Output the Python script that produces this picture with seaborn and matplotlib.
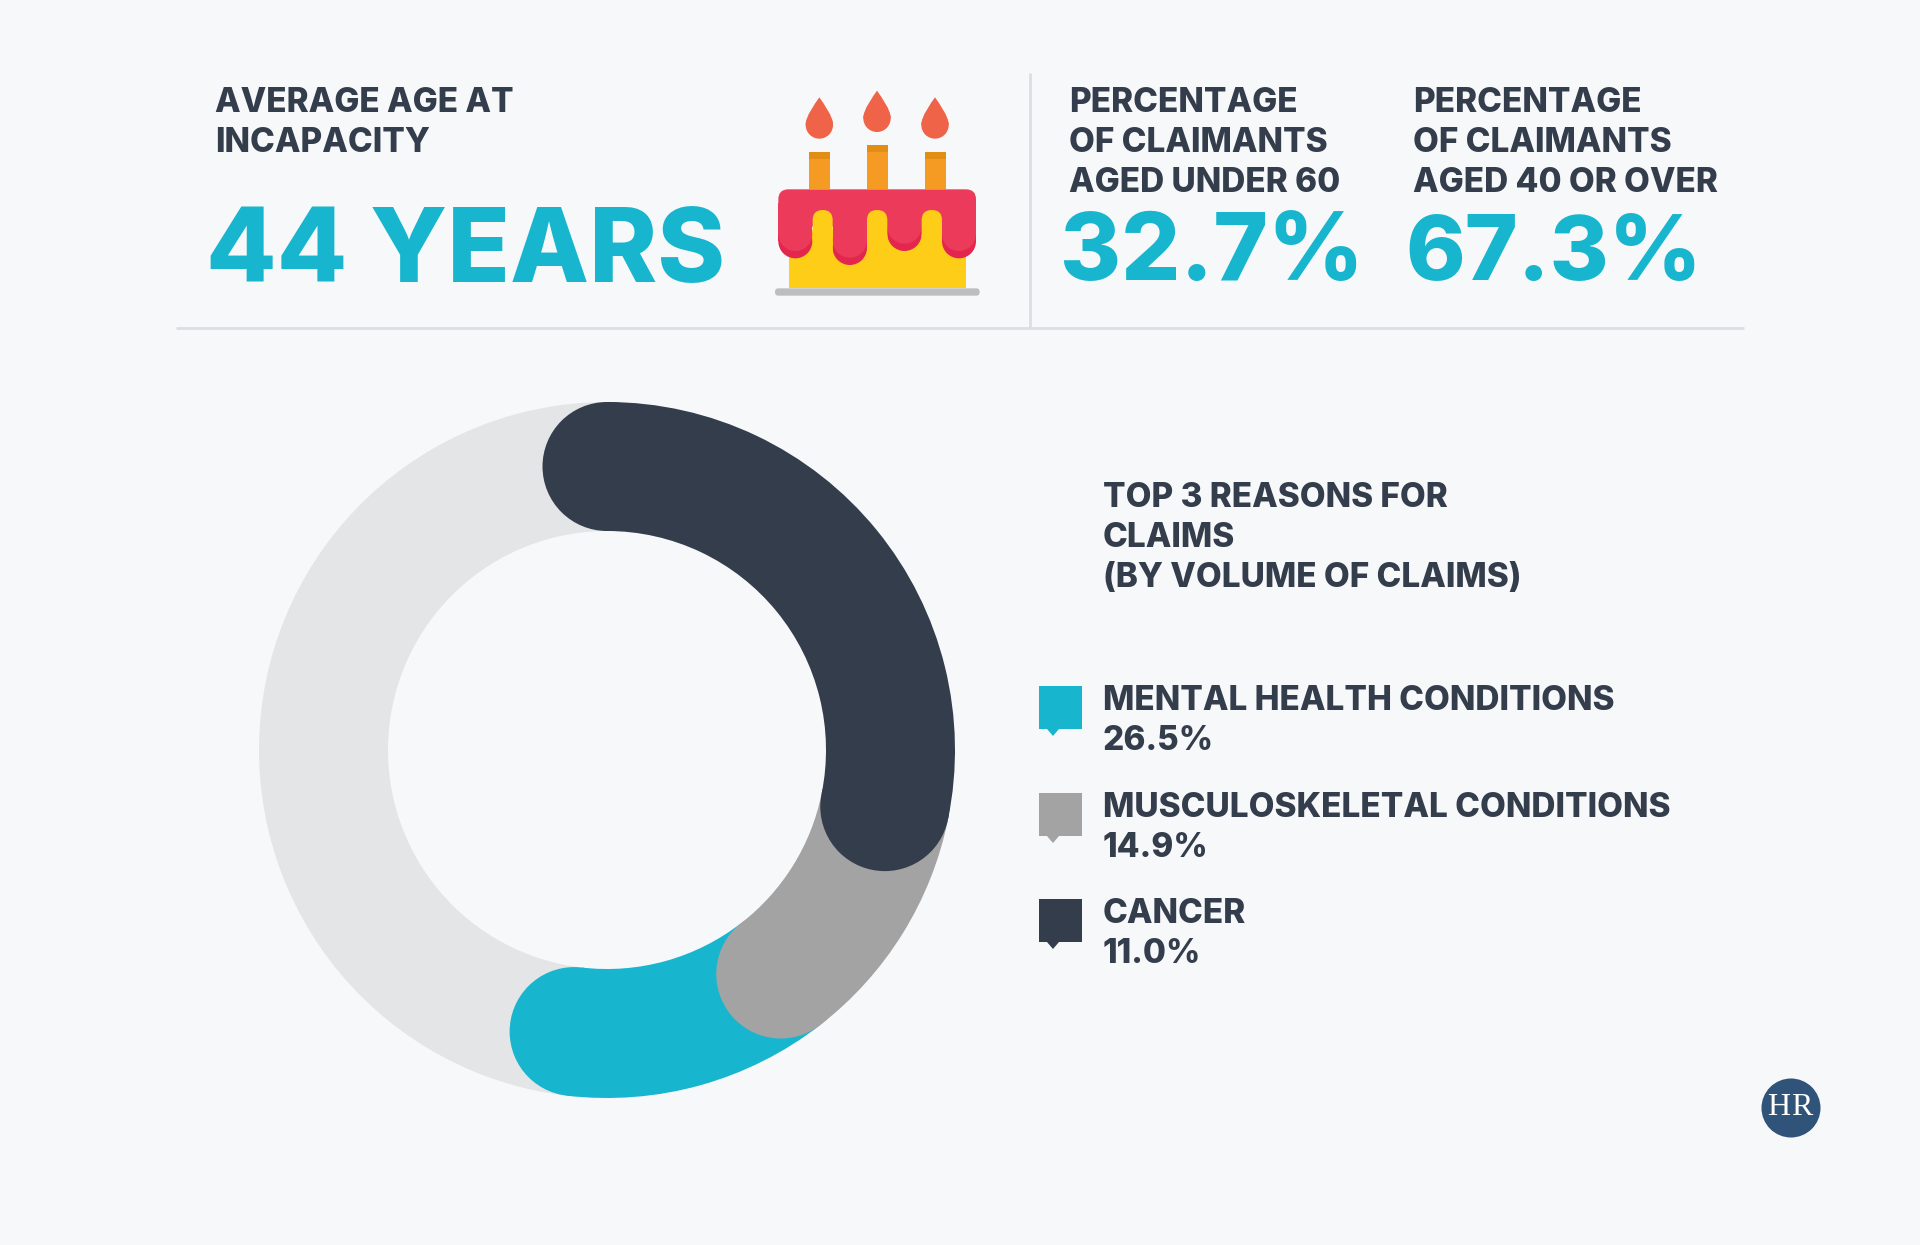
import numpy as np
import pandas as pd
import matplotlib
matplotlib.use("Agg")
import matplotlib.pyplot as plt
import seaborn as sns
from matplotlib.patches import Circle, FancyBboxPatch, PathPatch, Rectangle, Polygon
from matplotlib.path import Path

# values
reasons = ["MENTAL HEALTH CONDITIONS", "MUSCULOSKELETAL CONDITIONS", "CANCER"]
reason_labels = ["26.5%", "14.9%", "11.0%"]
reason_colors = ["#17b6ce", "#a3a3a3", "#343d4b"]
track_color = "#e4e5e6"

# where each coloured arc ends on the ring (percent of a turn, clockwise from the top)
arc_names = ["CANCER", "MUSCULOSKELETAL CONDITIONS", "MENTAL HEALTH CONDITIONS"]
arc_ends = [28.2, 39.5, 51.85]

age_title = ["AVERAGE AGE AT", "INCAPACITY"]
age_value = "44 YEARS"
under_title = ["PERCENTAGE", "OF CLAIMANTS", "AGED UNDER 60"]
under_value = "32.7%"
over_title = ["PERCENTAGE", "OF CLAIMANTS", "AGED 40 OR OVER"]
over_value = "67.3%"
top_title = ["TOP 3 REASONS FOR", "CLAIMS", "(BY VOLUME OF CLAIMS)"]

BG = "#f7f8fa"
INK = "#343d4b"
TEAL = "#17b6ce"
RULE = "#dcdee1"
W, H = 1920, 1245

sns.set_theme(style="white")
plt.rcParams["font.family"] = ["Inter", "DejaVu Sans"]

fig = plt.figure(figsize=(W / 100, H / 100), dpi=100, facecolor=BG)

# overlay in pixel coordinates for text and the small drawings
page = fig.add_axes([0, 0, 1, 1], zorder=2)
page.set_xlim(0, W)
page.set_ylim(H, 0)
page.axis("off")
page.patch.set_alpha(0)


def label(x, y, s, size=24, color=INK, weight=800, **kw):
    page.text(x, y, s, fontsize=size, color=color, fontweight=weight, va="baseline", **kw)


def stacked(x, y, lines, step=40):
    for i, s in enumerate(lines):
        label(x, y + i * step, s)


# rules
page.plot([176, 1744], [328, 328], color=RULE, lw=2, solid_capstyle="butt")
page.plot([1030, 1030], [73, 328], color=RULE, lw=2, solid_capstyle="butt")

# headline numbers
stacked(215, 112, age_title)
label(206, 282, age_value, size=74, color=TEAL)
stacked(1069, 112, under_title)
label(1060, 280, under_value, size=67, color=TEAL)
stacked(1413, 112, over_title)
label(1405, 280, over_value, size=65, color=TEAL)


# cake, coordinates taken from the icon in the picture
def cx(v):
    return 750 + v / 3


def cy(v):
    return 70 + v / 3


def rbox(x0, y0, x1, y1, r, color, z=3):
    page.add_patch(FancyBboxPatch((cx(x0) + r, cy(y0) + r), (x1 - x0) / 3 - 2 * r, (y1 - y0) / 3 - 2 * r,
                                  boxstyle=f"round,pad={r},rounding_size={r}", fc=color, ec="none", zorder=z))


ICING = "#ec3a5a"
ICING_DARK = "#e3264e"
YELLOW = "#fecd17"

for left, right, top in [(177, 239, 246), (350, 413, 225), (524, 587, 246)]:
    page.add_patch(Rectangle((cx(left), cy(top)), (right - left) / 3, (358 - top) / 3, fc="#f59a23", ec="none", zorder=3))
    page.add_patch(Rectangle((cx(left), cy(top)), (right - left) / 3, 7, fc="#e28e14", ec="none", zorder=3))
for mid, tip in [(208, 82), (381, 62), (555, 82)]:
    x, t, c, r = cx(mid), cy(tip), cy(tip + 83), 41 / 3
    page.add_patch(Circle((x, c), r, fc="#ef6349", ec="none", zorder=3))
    verts = [(x, t), (x + r * 0.35, t + 7), (x + r, c - 9), (x + r, c), (x - r, c), (x - r, c - 9), (x - r * 0.35, t + 7), (x, t)]
    codes = [Path.MOVETO, Path.CURVE4, Path.CURVE4, Path.CURVE4, Path.LINETO, Path.CURVE4, Path.CURVE4, Path.CURVE4]
    page.add_patch(PathPatch(Path(verts, codes), fc="#ef6349", ec="none", zorder=3))

page.add_patch(Rectangle((cx(116), cy(480)), (648 - 116) / 3, (655 - 480) / 3, fc=YELLOW, ec="none", zorder=3))
rbox(75, 655, 689, 677, 3.5, "#bcbec0")

# drips: a darker shape with the lighter icing shifted up over it
for left, right, bottom in [(85, 187, 565), (248, 351, 585), (412, 515, 543), (576, 678, 565)]:
    mid = (left + right) / 2
    rad = (right - left) / 2
    page.add_patch(Rectangle((cx(left), cy(400)), (right - left) / 3, (bottom - rad - 400) / 3, fc=ICING_DARK, ec="none", zorder=3.1))
    page.add_patch(Circle((cx(mid), cy(bottom - rad)), rad / 3, fc=ICING_DARK, ec="none", zorder=3.1))
    page.add_patch(Rectangle((cx(left), cy(400)), (right - left) / 3, (bottom - rad - 22 - 400) / 3, fc=ICING, ec="none", zorder=3.2))
    page.add_patch(Circle((cx(mid), cy(bottom - rad - 22)), rad / 3, fc=ICING, ec="none", zorder=3.2))
rbox(85, 358, 678, 470, 10, ICING, z=3.2)
for left, right in [(188, 248), (351, 412), (515, 576)]:
    rbox(left, 420, right, 600, 10, YELLOW, z=3.3)

# legend
for i, (name, pct, col) in enumerate(zip(reasons, reason_labels, reason_colors)):
    top = [686, 793, 899][i]
    page.add_patch(Polygon([(1039, top), (1082, top), (1082, top + 43), (1059, top + 43), (1053, top + 50),
                            (1047, top + 43), (1039, top + 43)], fc=col, ec="none", zorder=3))
    base = [710, 817, 923][i]
    label(1103, base, name)
    label(1103, base + 40, pct)
stacked(1103, 507, top_title)

# logo
page.add_patch(Circle((1791, 1108), 29.5, fc="#2f5379", ec="none", zorder=3))
page.text(1779, 1115, "H", fontsize=23, color="white", family="Liberation Serif", ha="center", va="baseline", zorder=4)
page.text(1802, 1115, "R", fontsize=23, color="white", family="Liberation Serif", ha="center", va="baseline", zorder=4)

# ring
ring_cx, ring_cy, ring_r, ring_w = 607, 750, 348, 129
ax = fig.add_axes([(ring_cx - ring_r) / W, 1 - (ring_cy + ring_r) / H, 2 * ring_r / W, 2 * ring_r / H], zorder=1)
ax.patch.set_alpha(0)

name_to_color = dict(zip(reasons, reason_colors))
spans = np.diff([0] + arc_ends).tolist() + [100 - arc_ends[-1]]
ax.pie(spans, colors=[name_to_color[n] for n in arc_names] + [track_color], startangle=90, counterclock=False,
       radius=1, wedgeprops={"width": ring_w / ring_r, "linewidth": 0})
ax.set_xlim(-1, 1)
ax.set_ylim(-1, 1)

# round ends of the arcs, last row on top
cap_r = 1 - ring_w / ring_r / 2
caps = pd.DataFrame({
    "arc": arc_names[::-1] + [arc_names[0]],
    "pos": arc_ends[::-1] + [0.0],
})
caps["x"] = cap_r * np.sin(caps["pos"] / 100 * 2 * np.pi)
caps["y"] = cap_r * np.cos(caps["pos"] / 100 * 2 * np.pi)
cap_pts = ring_w * 72 / 100
sns.scatterplot(data=caps, x="x", y="y", hue="arc", palette=name_to_color, s=cap_pts ** 2, linewidth=0,
                legend=False, ax=ax, zorder=5)
ax.set_xlabel("")
ax.set_ylabel("")
ax.axis("off")

fig.savefig("out.png", dpi=100, facecolor=BG)
